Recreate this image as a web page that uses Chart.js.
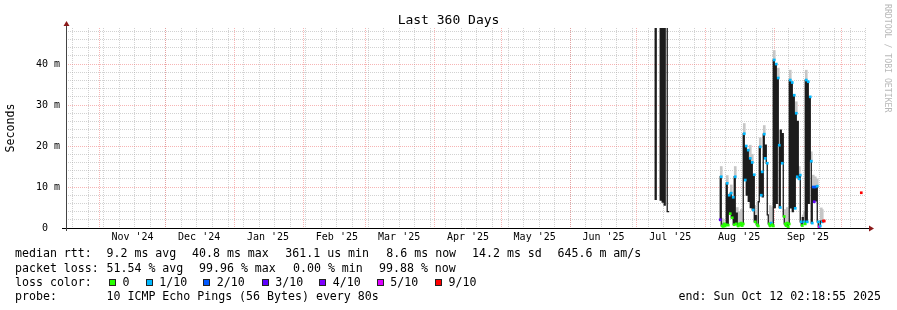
<!DOCTYPE html>
<html>
<head>
<meta charset="utf-8">
<script src="https://cdn.jsdelivr.net/npm/chart.js@4.4.1/dist/chart.umd.min.js"></script>
<style>
html,body{margin:0;padding:0;background:#fff;}
#wrap{position:relative;width:897px;height:310px;overflow:hidden;font-family:"DejaVu Sans Mono",monospace;color:#000;background:#fff;}
#c{position:absolute;left:0;top:0;}
.t{position:absolute;white-space:pre;font-size:11.6px;line-height:14px;}
.box{position:absolute;width:5px;height:5px;border:1px solid #222;}
</style>
</head>
<body>
<div id="wrap"><canvas id="c" width="897" height="310"></canvas></div>
<script>
// ---------------- DATA ----------------
// time axis: days since graph start (2024-10-17 02:18:55), 360 days shown
const graphStartUTC = [2024, 9, 17, 2, 18, 55];
const spanDays = 360;

// median RTT (ms) per consolidated step; null = no data (100% loss)
const medianDays = [
  264.69,265.14,265.59,266.04,266.49,266.94,267.39,267.84,268.29,268.74,269.19,269.64,270.09,270.55,271.00,271.45,271.90,
  293.96,294.41,294.86,295.31,295.76,296.21,296.66,297.11,297.56,298.01,298.46,298.91,299.36,299.81,300.26,300.71,
  301.16,301.61,302.06,302.51,302.96,303.42,303.87,304.32,304.77,305.22,305.67,306.12,306.57,307.02,307.47,307.92,
  308.37,308.82,309.27,309.72,310.17,310.62,311.07,311.52,311.97,312.42,312.87,313.32,313.77,314.22,314.67,315.12,
  315.57,316.02,316.47,316.92,317.37,317.82,318.27,318.72,319.17,319.62,320.07,320.52,320.97,321.42,321.87,322.32,
  322.77,323.22,323.67,324.12,324.57,325.02,325.47,325.92,326.37,326.82,327.27,327.72,328.17,328.62,329.07,329.52,
  329.97,330.42,330.87,331.32,331.77,332.22,332.67,333.12,333.57,334.02,334.47,334.92,335.37,335.82,336.27,336.72,
  337.17,337.62,338.07,338.52,338.97,339.42,339.87,340.32,340.77,341.22,341.67,
  357.88
];
const medianMs = [
  null,60,7.0,60,60,60,60,6.8,60,6.3,60,5.6,60,60,4.0,4.0,null,
  null,2.0,12.5,0.5,0.4,1.0,0.5,0.8,10.9,0.7,8.0,3.5,8.5,2.5,7.5,0.8,
  12.5,1.0,3.6,0.5,1.0,0.7,1.2,0.6,1.0,23.0,11.7,20.0,8.0,19.0,6.5,17.0,
  5.0,16.0,4.4,13.0,1.5,3.0,0.8,0.5,6.4,19.8,8.0,13.7,7.6,22.9,17.0,20.2,
  15.8,3.2,1.0,0.5,1.2,0.8,0.5,41.0,5.0,40.0,6.0,36.6,20.2,5.0,23.9,15.8,
  23.0,2.8,1.0,0.6,1.2,0.3,1.0,36.1,4.9,35.5,4.0,32.4,4.8,28.0,12.5,26.0,
  12.0,12.9,1.5,0.6,2.5,1.5,1.0,36.1,1.5,35.7,6.0,32.0,16.3,1.2,10.0,6.4,
  10.0,6.6,10.2,1.5,0.3,0.5,1.7,1.5,1.7,1.7,null,
  8.6
];
// loss bucket (index into lossLabels) shown as coloured mark; null = no mark
const medianLoss = [
  null,null,null,null,null,null,null,null,null,null,null,null,null,null,null,null,null,
  null,3,1,0,0,0,0,0,1,0,1,0,1,0,1,0,
  1,0,null,0,0,0,0,0,0,1,1,1,null,1,null,1,
  null,1,1,1,0,null,0,0,null,1,1,1,null,1,1,null,
  1,null,0,0,1,0,0,1,null,1,null,1,1,1,null,1,
  null,0,0,0,0,0,0,1,null,1,null,1,1,1,1,null,
  1,1,1,0,null,1,0,1,1,1,null,1,1,1,2,3,
  2,null,1,1,5,1,null,1,6,6,null,
  6
];

// smoke (spread of individual pings), ms
const smokeDays = [294.86,295.31,295.76,297.56,299.36,301.16,302.06,302.96,303.87,305.22,307.92,308.82,310.17,311.07,312.42,314.22,316.92,317.82,318.72,320.52,323.67,324.57,325.92,328.62,329.97,331.77,332.22,333.12,335.37,336.27,337.17,338.07,339.87,340.32];
const smokeLoMs = [12.5,0.5,0.4,10.9,8.5,12.5,2.0,1.0,1.2,23.0,17.0,16.0,1.5,0.8,19.8,22.9,0.5,0.8,41.0,36.6,1.0,1.2,36.1,28.0,12.9,1.2,1.5,36.1,16.3,10.0,10.0,10.2,1.7,1.5];
const smokeHiMs = [15.0,2.4,2.0,12.8,10.5,15.0,5.0,4.0,4.5,25.5,20.2,18.0,5.5,3.0,22.0,25.0,5.5,5.0,43.3,39.0,4.5,5.0,38.5,30.8,15.0,3.2,4.0,38.5,18.6,12.9,12.5,12.0,4.9,4.5];

const lossLabels = ['0','1/10','2/10','3/10','4/10','5/10','9/10'];
const lossColors = ['#26ff00','#00b8ff','#0059ff','#5e00ff','#7e00ff','#dd00ff','#ff0000'];

const monthLabels = ["Nov '24","Dec '24","Jan '25","Feb '25","Mar '25","Apr '25","May '25","Jun '25","Jul '25","Aug '25","Sep '25"];
const yMaxMs = 48.8;
const yMinorStep = 2, yMajorStep = 10;

const titleText = 'Last 360 Days';
const yTitle = 'Seconds';
const creditText = 'RRDTOOL / TOBI OETIKER';
const rttHead = 'median rtt:';
const rttStats = ['9.2 ms avg','40.8 ms max','361.1 us min','8.6 ms now','14.2 ms sd','645.6 m am/s'];
const lossHead = 'packet loss:';
const lossStats = ['51.54 % avg','99.96 % max','0.00 % min','99.88 % now'];
const colorHead = 'loss color:';
const probeHead = 'probe:';
const probeText = '10 ICMP Echo Pings (56 Bytes) every 80s';
const endText = 'end: Sun Oct 12 02:18:55 2025';

// ---------------- LAYOUT ----------------
const rttX = [106.5,192,285.3,386.3,472,557.5];
const lossX = [106.5,199,293,379];
const boxX = [109,145.7,203.3,261.7,319.3,376.7,435];
const lineTop = [246.3,260.5,274.7,288.9];

const wrap = document.getElementById('wrap');
function addText(txt, css){
  const d = document.createElement('div');
  d.className = 't';
  d.textContent = txt;
  Object.assign(d.style, css);
  wrap.appendChild(d);
  return d;
}
addText(titleText,{left:'0px',width:'897px',textAlign:'center',top:'11.5px',fontSize:'13px',lineHeight:'16px'});
addText(creditText,{left:'883px',top:'4px',fontSize:'8.2px',lineHeight:'10px',writingMode:'vertical-rl',color:'#b8b8b8'});
addText(rttHead,{left:'15px',top:lineTop[0]+'px'});
rttStats.forEach((s,i)=>addText(s,{left:rttX[i]+'px',top:lineTop[0]+'px'}));
addText(lossHead,{left:'15px',top:lineTop[1]+'px'});
lossStats.forEach((s,i)=>addText(s,{left:lossX[i]+'px',top:lineTop[1]+'px'}));
addText(colorHead,{left:'15px',top:lineTop[2]+'px'});
lossLabels.forEach((s,i)=>{
  const b = document.createElement('div');
  b.className='box';
  b.style.left = boxX[i]+'px';
  b.style.top = '279px';
  b.style.background = lossColors[i];
  wrap.appendChild(b);
  addText(s,{left:(boxX[i]+13.5)+'px',top:lineTop[2]+'px'});
});
addText(probeHead,{left:'15px',top:lineTop[3]+'px'});
addText(probeText,{left:'106.5px',top:lineTop[3]+'px'});
addText(endText,{right:'16px',top:lineTop[3]+'px'});

// ---------------- TICKS ----------------
const DAYMS = 86400000;
const t0 = Date.UTC(...graphStartUTC);
const dayOf = (y,m,d) => (Date.UTC(y,m,d) - t0) / DAYMS;
const xTicks = [];
// weekly minor grid (Sundays)
for (let t = dayOf(2024,9,20); t < spanDays; t += 7) xTicks.push({value:t, kind:'w', lbl:''});
// month major grid + mid-month labels
for (let i = 0; i < 12; i++) {
  const y = 2024 + Math.floor((10 + i) / 12), m = (10 + i) % 12;
  const ms = dayOf(y, m, 1);
  if (ms > 0 && ms < spanDays) xTicks.push({value:ms, kind:'m', lbl:''});
  const lab = ms + 15;
  if (i < monthLabels.length && lab > 0 && lab < spanDays) xTicks.push({value:lab, kind:'l', lbl:monthLabels[i]});
}
xTicks.sort((a,b)=>a.value-b.value);
const yTicks = [];
for (let v = 0; v <= yMaxMs; v += yMinorStep) yTicks.push(v);

const MINOR = 'rgba(165,165,165,0.5)';
const MAJOR = 'rgba(240,120,120,0.55)';

const axesPlugin = {
  id: 'rrdAxes',
  afterDatasetsDraw(chart) {
    const {ctx, chartArea: a} = chart;
    ctx.save();
    ctx.strokeStyle = '#000';
    ctx.lineWidth = 1;
    ctx.beginPath();
    ctx.moveTo(a.left - 4, a.bottom + 0.5);
    ctx.lineTo(a.right + 3, a.bottom + 0.5);
    ctx.stroke();
    ctx.strokeStyle = '#444';
    ctx.beginPath();
    ctx.moveTo(a.left + 0.5, a.bottom + 3);
    ctx.lineTo(a.left + 0.5, a.top - 3);
    ctx.stroke();
    ctx.fillStyle = '#8b1a1a';
    ctx.beginPath();
    ctx.moveTo(a.left + 0.5, a.top - 7);
    ctx.lineTo(a.left - 2.5, a.top - 2);
    ctx.lineTo(a.left + 3.5, a.top - 2);
    ctx.closePath(); ctx.fill();
    ctx.beginPath();
    ctx.moveTo(a.right + 8, a.bottom + 0.5);
    ctx.lineTo(a.right + 3, a.bottom - 2.5);
    ctx.lineTo(a.right + 3, a.bottom + 3.5);
    ctx.closePath(); ctx.fill();
    ctx.restore();
  }
};

new Chart(document.getElementById('c'), {
  type: 'line',
  data: {
    datasets: [
      {
        type: 'bar',
        data: smokeDays.map((d,i)=>({x:d, y:[smokeLoMs[i], smokeHiMs[i]]})),
        backgroundColor: '#c6c6c6',
        borderWidth: 0,
        barThickness: 2,
        order: 3
      },
      {
        type: 'line',
        data: medianDays.map((d,i)=>({x:d, y:medianMs[i]})),
        borderColor: '#1c1c1c',
        borderWidth: 1.3,
        stepped: 'after',
        spanGaps: false,
        fill: false,
        pointStyle: 'rect',
        pointRadius: ctx => medianLoss[ctx.dataIndex] == null ? 0 : 1.9,
        pointHoverRadius: 0,
        pointBorderWidth: 0,
        pointBackgroundColor: ctx => medianLoss[ctx.dataIndex] == null ? 'transparent' : lossColors[medianLoss[ctx.dataIndex]],
        order: 1
      }
    ]
  },
  options: {
    responsive: false,
    animation: false,
    devicePixelRatio: 1,
    layout: { padding: { left: 0, right: 31, top: 28, bottom: 0 } },
    plugins: { legend: { display: false }, tooltip: { enabled: false }, title: { display: false } },
    scales: {
      x: {
        type: 'linear', min: 0, max: spanDays, offset: false,
        afterBuildTicks: s => { s.ticks = xTicks.map(t => ({value:t.value, kind:t.kind, lbl:t.lbl})); },
        afterFit: s => { s.height = 82; },
        grid: {
          offset: false, drawTicks: false, lineWidth: 1,
          color: c => c.tick ? (c.tick.kind === 'm' ? MAJOR : (c.tick.kind === 'w' ? MINOR : 'rgba(0,0,0,0)')) : MINOR
        },
        border: { display: false, dash: [1,1] },
        ticks: {
          autoSkip: false, maxRotation: 0, minRotation: 0, padding: 3,
          font: { family: 'DejaVu Sans Mono', size: 10 }, color: '#000',
          callback: (v, i, t) => (t[i] && t[i].lbl) || ''
        }
      },
      y: {
        min: 0, max: yMaxMs,
        afterBuildTicks: s => { s.ticks = yTicks.map(v => ({value:v})); },
        afterFit: s => { s.width = 66; },
        grid: {
          drawTicks: false, lineWidth: 1,
          color: c => c.tick ? (c.tick.value === 0 ? 'rgba(0,0,0,0)' : (c.tick.value % yMajorStep === 0 ? MAJOR : MINOR)) : MINOR
        },
        border: { display: false, dash: [1,1] },
        ticks: {
          autoSkip: false, padding: 6, font: { family: 'DejaVu Sans Mono', size: 10 }, color: '#000',
          callback: v => v % yMajorStep === 0 ? (v === 0 ? '0  ' : v + ' m') : ''
        },
        title: { display: true, text: yTitle, color: '#000', font: { family: 'DejaVu Sans Mono', size: 11.6 }, padding: { top: 4, bottom: 0 } }
      }
    }
  },
  plugins: [axesPlugin]
});
</script>
</body>
</html>
